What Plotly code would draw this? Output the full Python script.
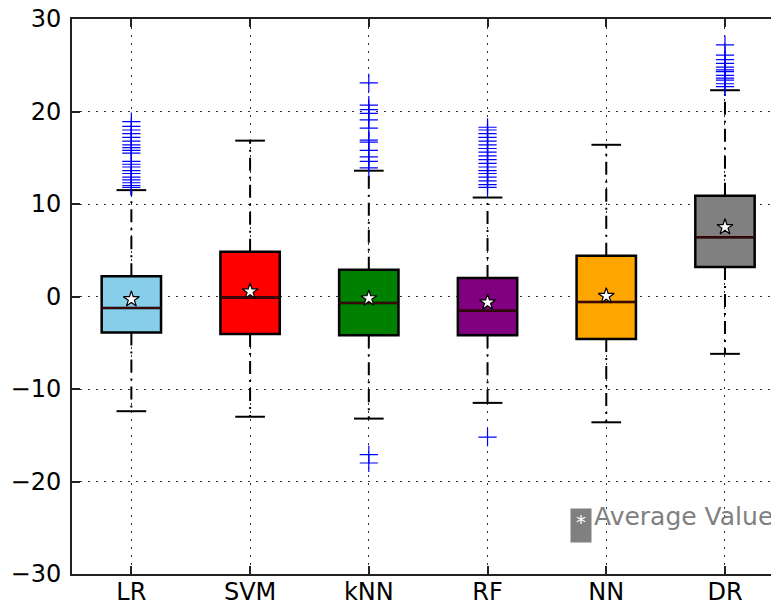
import plotly.graph_objects as go

labels = ["LR", "SVM", "kNN", "RF", "NN", "DR"]
box_colors = ["#87CEEB", "#FF0000", "#008000", "#800080", "#FFA500", "#808080"]

q1 = [-3.9, -4.05, -4.2, -4.2, -4.6, 3.2]
median = [-1.25, -0.1, -0.7, -1.55, -0.6, 6.4]
q3 = [2.2, 4.85, 2.9, 2.0, 4.4, 10.9]
whisker_low = [-12.4, -13.0, -13.2, -11.5, -13.6, -6.2]
whisker_high = [11.5, 16.85, 13.6, 10.7, 16.4, 22.3]
means = [-0.3, 0.55, -0.2, -0.65, 0.05, 7.5]

outliers = [
    [11.8, 12.0, 12.3, 12.6, 12.9, 13.3, 13.6, 14.0, 14.3, 14.6, 15.5, 15.8,
     16.1, 16.4, 16.8, 17.2, 17.6, 18.0, 18.4, 18.9],
    [],
    [13.9, 14.6, 15.1, 15.8, 16.7, 16.9, 18.2, 19.1, 19.8, 20.2, 20.7, 23.1,
     -17.1, -18.0],
    [11.8, 12.1, 12.5, 12.9, 13.3, 13.6, 14.0, 14.4, 14.8, 15.2, 15.6, 16.0,
     16.4, 16.8, 17.2, 17.6, 18.0, 18.3, -15.2],
    [],
    [22.7, 23.0, 23.4, 23.6, 23.9, 24.3, 24.5, 24.8, 25.2, 25.6, 26.1, 27.2],
]

y_ticks = [-30, -20, -10, 0, 10, 20, 30]
y_tick_text = ["\u221230", "\u221220", "\u221210", "0", "10", "20", "30"]
legend_text = "Average Value"

positions = list(range(1, len(labels) + 1))
fig = go.Figure()

# whiskers (dash-dot)
for i, p in enumerate(positions):
    for a, b in ((q3[i], whisker_high[i]), (q1[i], whisker_low[i])):
        fig.add_trace(go.Scatter(
            x=[p, p], y=[a, b], mode="lines",
            line=dict(color="black", width=2, dash="13px,6px,2px,6px"),
            hoverinfo="skip", showlegend=False))
    # caps
    for v in (whisker_high[i], whisker_low[i]):
        fig.add_trace(go.Scatter(
            x=[p - 0.125, p + 0.125], y=[v, v], mode="lines",
            line=dict(color="black", width=2),
            hoverinfo="skip", showlegend=False))

# boxes
for i, p in enumerate(positions):
    fig.add_trace(go.Box(
        x=[p], q1=[q1[i]], median=[median[i]], q3=[q3[i]],
        lowerfence=[q1[i]], upperfence=[q3[i]],
        width=0.5, fillcolor=box_colors[i],
        line=dict(color="black", width=2.5),
        whiskerwidth=0, boxpoints=False, showlegend=False,
        name=labels[i]))

# medians
for i, p in enumerate(positions):
    fig.add_trace(go.Scatter(
        x=[p - 0.25, p + 0.25], y=[median[i], median[i]], mode="lines",
        line=dict(color="#3a0808", width=2),
        hoverinfo="skip", showlegend=False))

# outliers
for i, p in enumerate(positions):
    if outliers[i]:
        fig.add_trace(go.Scatter(
            x=[p] * len(outliers[i]), y=outliers[i], mode="markers",
            marker=dict(symbol="cross-thin", size=13,
                        line=dict(color="#0000FF", width=1.2)),
            showlegend=False))

# means
fig.add_trace(go.Scatter(
    x=positions, y=means, mode="markers",
    marker=dict(symbol="star", size=12, color="white",
                line=dict(color="black", width=1.2)),
    showlegend=False))

fig.add_annotation(
    xref="paper", yref="paper", x=(570 - 72) / 707, y=(574 - 525.5) / 555,
    xanchor="left", yanchor="middle", text="*", showarrow=False,
    bgcolor="#808080", width=18, height=31, borderpad=1, valign="top",
    font=dict(family="DejaVu Sans", size=20, color="white"))
fig.add_annotation(
    xref="paper", yref="paper", x=(592 - 72) / 707, y=(574 - 517) / 555,
    xanchor="left", yanchor="middle", text=legend_text, showarrow=False,
    font=dict(family="DejaVu Sans", size=25, color="#808080"))

axis_common = dict(
    showline=True, linecolor="#222222", linewidth=2,
    ticks="inside", ticklen=8, tickwidth=1.5, tickcolor="#222222",
    showgrid=True, gridcolor="#333333", gridwidth=1, griddash="2px,6px",
    zeroline=False, automargin=False, ticklabeloverflow="allow",
    tickfont=dict(family="DejaVu Sans", size=24, color="black"),
)

# The page body adds an 8px offset, so the figure is sized/margined to compensate.
fig.update_layout(
    width=771, height=594,
    margin=dict(l=64, r=0, t=11, b=28),
    plot_bgcolor="white", paper_bgcolor="white",
    showlegend=False,
    xaxis=dict(range=[0.5, 6.455], tickmode="array", tickvals=positions,
               ticktext=labels, mirror="ticks", ticklabelstandoff=-5,
               **axis_common),
    yaxis=dict(range=[-30, 30], tickmode="array", tickvals=y_ticks,
               ticktext=y_tick_text, ticklabelstandoff=4, **axis_common),
)

fig.write_html("out.html")
